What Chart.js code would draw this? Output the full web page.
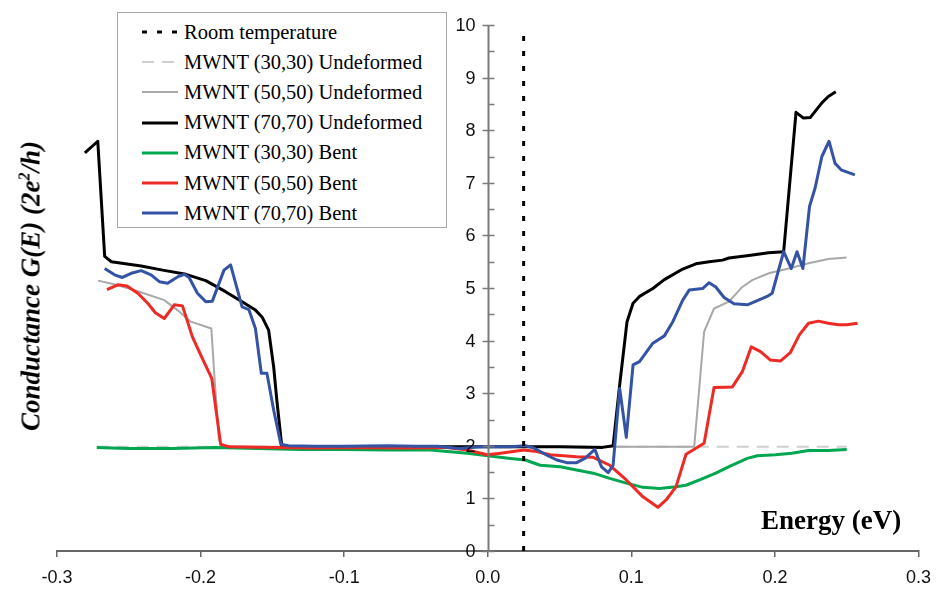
<!DOCTYPE html>
<html lang="en">
<head>
  <meta charset="UTF-8" />
  <title>Conductance vs energy</title>
  <script src="https://cdn.jsdelivr.net/npm/chart.js"></script>
  <style>
    body { margin: 0; background: #fff; }
    #wrap { position: relative; width: 941px; height: 589px; }
    #yTitle {
      position: absolute; left: 31px; top: 286px;
      transform: translate(-50%, -50%) rotate(-90deg);
      font: bold italic 27px "Liberation Serif", serif; white-space: nowrap; color: #000;
    }
    #xTitle {
      position: absolute; left: 761px; top: 505px;
      font: bold 27px "Liberation Serif", serif; white-space: nowrap; color: #000;
    }
    #legend {
      position: absolute; left: 117px; top: 12px; width: 330px; height: 216px;
      border: 1px solid #a8a8a8; background: #fff; box-sizing: border-box;
      font: 20.5px "Liberation Serif", serif; color: #000;
    }
    .item { position: absolute; left: 24px; height: 30px; display: flex; align-items: center; white-space: nowrap; }
    .item svg { margin-right: 6px; }
  </style>
</head>
<body>
  <div id="wrap">
    <canvas id="chart" width="941" height="589"></canvas>
    <div id="yTitle">Conductance G(E) (2e<sup style="font-size:16px">2</sup>/h)</div>
    <div id="xTitle">Energy (eV)</div>
    <div id="legend"></div>
  </div>

  <script>
    // room temperature marker
    const roomT = 0.025;

    // MWNT (70,70) undeformed
    const x70u = [-0.2806, -0.2716, -0.2668, -0.2621, -0.2414, -0.2264, -0.2102, -0.1964, -0.1826, -0.1711, -0.1618, -0.1572, -0.1526, -0.1491, -0.1469, -0.1434,
                  -0.10, -0.05, 0.0, 0.05, 0.08, 0.0873, 0.0919, 0.0970, 0.1012, 0.1057, 0.1150, 0.1230, 0.1358, 0.1450, 0.1542, 0.1635, 0.1680, 0.1819, 0.1957, 0.2061,
                  0.2147, 0.2199, 0.2246, 0.2327, 0.2372, 0.2424];
    const y70u = [7.57, 7.79, 5.60, 5.50, 5.42, 5.34, 5.26, 5.14, 4.93, 4.74, 4.58, 4.45, 4.20, 3.50, 2.87, 1.98,
                  1.98, 1.98, 1.98, 1.98, 1.97, 2.00, 3.16, 4.36, 4.71, 4.84, 4.99, 5.16, 5.36, 5.46, 5.50, 5.53, 5.57, 5.62, 5.67, 5.69,
                  8.34, 8.23, 8.24, 8.52, 8.64, 8.73];

    // MWNT (50,50) undeformed
    const x50u = [-0.2714, -0.2587, -0.2426, -0.2253, -0.2161, -0.2068, -0.1925, -0.1902, -0.1872, -0.1849, -0.10, 0.0, 0.10, 0.1438, 0.1507, 0.1576, 0.1680, 0.1773, 0.1842, 0.1957, 0.2096, 0.2234, 0.2372, 0.2500];
    const y50u = [5.14, 5.06, 4.93, 4.77, 4.58, 4.36, 4.23, 3.25, 2.11, 1.98, 1.98, 1.98, 1.98, 1.98, 4.17, 4.61, 4.74, 5.02, 5.15, 5.28, 5.37, 5.47, 5.55, 5.58];

    // MWNT (30,30) undeformed
    const x30u = [-0.2723, -0.10, 0.10, 0.2500];
    const y30u = [1.98, 1.98, 1.98, 1.98];

    // MWNT (30,30) bent
    const x30b = [-0.2723, -0.25, -0.22, -0.19, -0.16, -0.13, -0.10, -0.07, -0.04, -0.0142, 0.0, 0.0158, 0.0262, 0.0365, 0.0504, 0.0619, 0.0735, 0.0850, 0.0965, 0.1081, 0.1196, 0.1311, 0.1381,
                  0.1484, 0.1588, 0.1692, 0.1808, 0.1877, 0.2003, 0.2119, 0.2234, 0.2372, 0.2500];
    const y30b = [1.97, 1.95, 1.95, 1.97, 1.95, 1.93, 1.93, 1.92, 1.92, 1.86, 1.81, 1.76, 1.73, 1.63, 1.60, 1.54, 1.48, 1.38, 1.29, 1.21, 1.19, 1.22, 1.25,
                  1.36, 1.48, 1.62, 1.76, 1.81, 1.83, 1.86, 1.91, 1.91, 1.93];

    // MWNT (50,50) bent
    const x50b = [-0.2652, -0.2576, -0.2513, -0.2437, -0.2368, -0.2315, -0.2253, -0.2183, -0.2126, -0.2057, -0.1988, -0.1922, -0.1860, -0.1803, -0.15, -0.12, -0.09, -0.06, -0.03,
                  -0.0142, -0.0003, 0.0089, 0.0251, 0.0343, 0.0435, 0.0619, 0.0735, 0.0850, 0.0965, 0.1081, 0.1185, 0.1242, 0.1311, 0.1381, 0.1507, 0.1576, 0.1704, 0.1773,
                  0.1835, 0.1900, 0.1969, 0.2038, 0.2107, 0.2170, 0.2234, 0.2303, 0.2372, 0.2442, 0.2500, 0.2576];
    const y50b = [4.97, 5.06, 5.04, 4.90, 4.71, 4.53, 4.42, 4.68, 4.66, 4.07, 3.66, 3.28, 2.03, 1.98, 1.97, 1.96, 1.97, 1.96, 1.97,
                  1.92, 1.83, 1.86, 1.92, 1.89, 1.83, 1.79, 1.78, 1.63, 1.35, 1.03, 0.83, 0.97, 1.22, 1.84, 2.05, 3.11, 3.12, 3.41,
                  3.88, 3.79, 3.63, 3.61, 3.77, 4.11, 4.33, 4.37, 4.33, 4.30, 4.30, 4.33];

    // MWNT (70,70) bent
    const x70b = [-0.2668, -0.2599, -0.2545, -0.2483, -0.2414, -0.2345, -0.2287, -0.2230, -0.2161, -0.2114, -0.2080, -0.2022, -0.1964, -0.1918, -0.1837, -0.1791, -0.1711, -0.1664,
                  -0.1618, -0.1577, -0.1538, -0.1491, -0.1441, -0.1388, -0.12, -0.10, -0.07, -0.05, -0.035, -0.02, -0.005, 0.0158, 0.0262, 0.0320, 0.0412, 0.0481, 0.0550,
                  0.0619, 0.0677, 0.0746, 0.0792, 0.0839, 0.0873, 0.0919, 0.0965, 0.1012, 0.1057, 0.1150, 0.1230, 0.1289, 0.1358, 0.1403, 0.1496, 0.1542, 0.1588,
                  0.1646, 0.1715, 0.1808, 0.1877, 0.1946, 0.1981, 0.2061, 0.2114, 0.2154, 0.2195, 0.2241, 0.2280, 0.2327, 0.2377, 0.2419, 0.2465, 0.2557];
    const y70b = [5.37, 5.25, 5.20, 5.28, 5.33, 5.25, 5.12, 5.09, 5.21, 5.26, 5.20, 4.90, 4.74, 4.75, 5.34, 5.44, 4.64, 4.59,
                  4.23, 3.38, 3.38, 2.68, 2.03, 2.00, 1.99, 1.99, 2.00, 1.99, 1.99, 1.95, 1.98, 1.98, 2.00, 1.96, 1.82, 1.73, 1.68,
                  1.68, 1.76, 1.93, 1.60, 1.49, 1.63, 3.09, 2.16, 3.54, 3.60, 3.95, 4.09, 4.36, 4.77, 4.96, 4.99, 5.10, 5.02,
                  4.82, 4.70, 4.68, 4.76, 4.84, 4.90, 5.69, 5.37, 5.69, 5.37, 6.55, 6.90, 7.50, 7.79, 7.37, 7.24, 7.15];

    const pts = (xs, ys) => xs.map((x, i) => ({ x, y: ys[i] }));

    const series = [
      { label: 'Room temperature', data: [{ x: roomT, y: 0 }, { x: roomT, y: 9.95 }], borderColor: '#000', borderWidth: 3, borderDash: [5, 10], order: 0 },
      { label: 'MWNT (30,30) Undeformed', data: pts(x30u, y30u), borderColor: '#cfcfcf', borderWidth: 2, borderDash: [12, 8], order: 6 },
      { label: 'MWNT (50,50) Undeformed', data: pts(x50u, y50u), borderColor: '#a8a8a8', borderWidth: 2, order: 5 },
      { label: 'MWNT (70,70) Undeformed', data: pts(x70u, y70u), borderColor: '#000000', borderWidth: 3, order: 4 },
      { label: 'MWNT (30,30) Bent', data: pts(x30b, y30b), borderColor: '#00a650', borderWidth: 3, order: 3 },
      { label: 'MWNT (50,50) Bent', data: pts(x50b, y50b), borderColor: '#ee2a24', borderWidth: 3, order: 2 },
      { label: 'MWNT (70,70) Bent', data: pts(x70b, y70b), borderColor: '#3553a5', borderWidth: 3, order: 1 }
    ];

    // the y axis crosses at E = 0: line, crossing major ticks, half-unit minor ticks and labels
    const centerYAxis = {
      id: 'centerYAxis',
      afterDatasetsDraw(chart) {
        const { ctx, scales: { x, y } } = chart;
        const x0 = Math.round(x.getPixelForValue(0)) + 0.5;
        ctx.save();
        ctx.strokeStyle = '#7a7a7a';
        ctx.lineWidth = 2;
        ctx.beginPath();
        ctx.moveTo(x0, y.getPixelForValue(10));
        ctx.lineTo(x0, y.getPixelForValue(0));
        ctx.stroke();
        ctx.lineWidth = 1.5;
        for (let v = 0; v <= 10; v += 0.5) {
          const py = Math.round(y.getPixelForValue(v)) + 0.5;
          const major = v % 1 === 0;
          ctx.beginPath();
          ctx.moveTo(major ? x0 - 6 : x0, py);
          ctx.lineTo(x0 + 6, py);
          ctx.stroke();
        }
        ctx.fillStyle = '#111';
        ctx.font = '18px "Liberation Sans"';
        ctx.textAlign = 'right';
        ctx.textBaseline = 'middle';
        y.ticks.forEach(t => {
          ctx.fillText(String(t.value), x0 - 13, y.getPixelForValue(t.value) + 1);
        });
        ctx.restore();
      }
    };

    const chart = new Chart(document.getElementById('chart'), {
      type: 'line',
      data: {
        datasets: series.map(s => ({ ...s, fill: false, pointRadius: 0, tension: 0, borderJoinStyle: 'round' }))
      },
      options: {
        responsive: false,
        animation: false,
        layout: { padding: { left: 57, right: 17, top: 25, bottom: 0 } },
        plugins: { legend: { display: false }, tooltip: { enabled: false } },
        scales: {
          x: {
            type: 'linear', min: -0.3, max: 0.3,
            afterFit(scale) { scale.height = 38; },
            border: { display: true, color: '#666', width: 2 },
            grid: { drawOnChartArea: false, drawTicks: true, tickLength: 6, color: '#666', lineWidth: 1.5 },
            ticks: { stepSize: 0.1, padding: 10, color: '#111', font: { family: 'Liberation Sans', size: 18 },
                     callback: v => v.toFixed(1) }
          },
          y: {
            type: 'linear', min: 0, max: 10,
            position: { x: 0 },
            border: { display: false },
            grid: { display: false },
            ticks: { stepSize: 1, display: false }
          }
        }
      },
      plugins: [centerYAxis]
    });

    // legend built from the datasets
    const legend = document.getElementById('legend');
    series.forEach((s, i) => {
      const row = document.createElement('div');
      row.className = 'item';
      row.style.top = (4 + i * 30.2) + 'px';
      const dash = s.borderDash ? `stroke-dasharray="${s.borderDash.join(' ')}"` : '';
      row.innerHTML = `<svg width="36" height="6"><line x1="0" y1="3" x2="36" y2="3" stroke="${s.borderColor}" stroke-width="${s.borderWidth}" ${dash}/></svg><span>${s.label}</span>`;
      legend.appendChild(row);
    });
  </script>
</body>
</html>
